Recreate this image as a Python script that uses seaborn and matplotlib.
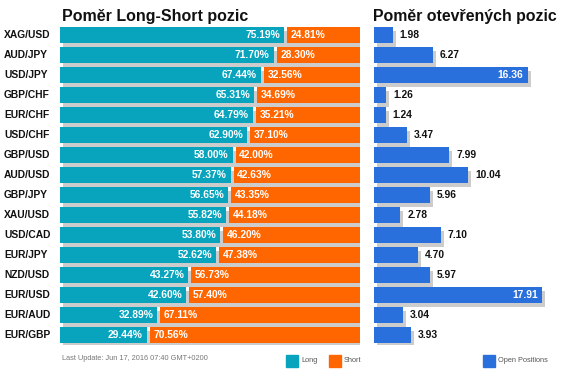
import numpy as np
import pandas as pd
import matplotlib
matplotlib.use("Agg")
import matplotlib.pyplot as plt
import matplotlib.transforms as mtransforms
from matplotlib.patches import Rectangle
import seaborn as sns

# ---- data ----
pairs = ["XAG/USD", "AUD/JPY", "USD/JPY", "GBP/CHF", "EUR/CHF", "USD/CHF", "GBP/USD",
         "AUD/USD", "GBP/JPY", "XAU/USD", "USD/CAD", "EUR/JPY", "NZD/USD", "EUR/USD",
         "EUR/AUD", "EUR/GBP"]
long_pct = [75.19, 71.70, 67.44, 65.31, 64.79, 62.90, 58.00, 57.37, 56.65, 55.82,
            53.80, 52.62, 43.27, 42.60, 32.89, 29.44]
short_pct = [24.81, 28.30, 32.56, 34.69, 35.21, 37.10, 42.00, 42.63, 43.35, 44.18,
             46.20, 47.38, 56.73, 57.40, 67.11, 70.56]
open_pos = [1.98, 6.27, 16.36, 1.26, 1.24, 3.47, 7.99, 10.04, 5.96, 2.78, 7.10, 4.70,
            5.97, 17.91, 3.04, 3.93]
title_left = "Poměr Long-Short pozic"
title_right = "Poměr otevřených pozic"
footer = "Last Update: Jun 17, 2016 07:40 GMT+0200"
legend_labels = ["Long", "Short", "Open Positions"]

df = pd.DataFrame({"pair": pairs, "long": long_pct, "short": short_pct, "open": open_pos})

# ---- style ----
sns.set_style("white")
plt.rcParams["font.family"] = ["Liberation Sans", "DejaVu Sans"]

TEAL = "#08A4BD"
ORANGE = "#FF6600"
BLUE = "#2A70DC"
SHADOW = "#CCCCCC"
LBL = 7.4

W, H = 565, 373
fig = plt.figure(figsize=(W / 100, H / 100), dpi=100)
fig.patch.set_facecolor("white")

def px_axes(x0, x1, ytop, ybot):
    return fig.add_axes([x0 / W, 1 - ybot / H, (x1 - x0) / W, (ybot - ytop) / H])

n = len(pairs)
ypos = np.arange(n)
BH = 0.8

axL = px_axes(60, 360, 25, 345)
axR = px_axes(374, 562, 25, 345)

shadow_off = mtransforms.ScaledTranslation(3 / 100, -4 / 100, fig.dpi_scale_trans)

# ---- left panel ----
axL.barh(ypos, [100] * n, height=BH, color=SHADOW, linewidth=0,
         transform=axL.transData + shadow_off, zorder=1)
sns.barplot(data=df, x="long", y="pair", orient="h", color=TEAL, width=BH,
            saturation=1, ax=axL, zorder=2)
for p in axL.patches[n:]:
    p.set_width(p.get_width() - 0.5)
    p.set_linewidth(0)
axL.barh(ypos, df["short"] - 0.5, left=df["long"] + 0.5, height=BH, color=ORANGE,
         linewidth=0, zorder=2)
for i in range(n):
    axL.text(long_pct[i] - 1.8, i, f"{long_pct[i]:.2f}%", color="white",
             fontsize=LBL, fontweight="bold", ha="right", va="center", zorder=3)
    axL.text(long_pct[i] + 1.7, i, f"{short_pct[i]:.2f}%", color="white",
             fontsize=LBL, fontweight="bold", ha="left", va="center", zorder=3)
axL.set_xlim(0, 100)
axL.set_ylim(n - 0.5, -0.5)

# ---- right panel ----
axR.barh(ypos, open_pos, height=BH, color=SHADOW, linewidth=0,
         transform=axR.transData + shadow_off, zorder=1)
sns.barplot(data=df, x="open", y="pair", orient="h", color=BLUE, width=BH,
            saturation=1, ax=axR, zorder=2)
for p in axR.patches[n:]:
    p.set_linewidth(0)
for i, v in enumerate(open_pos):
    if v > 15:
        axR.text(v - 0.5, i, f"{v:.2f}", color="white", fontsize=LBL,
                 fontweight="bold", ha="right", va="center", zorder=3)
    else:
        axR.text(v + 0.75, i, f"{v:.2f}", color="#111111", fontsize=LBL,
                 fontweight="bold", ha="left", va="center", zorder=3)
axR.set_xlim(0, 20)
axR.set_ylim(n - 0.5, -0.5)

for ax in (axL, axR):
    ax.set_xlabel("")
    ax.set_ylabel("")
    ax.set_xticks([])
    ax.set_yticks([])
    for s in ax.spines.values():
        s.set_visible(False)
    ax.patch.set_alpha(0)

# pair labels
lab_tr = mtransforms.blended_transform_factory(fig.transFigure, axL.transData)
for i, pr in enumerate(pairs):
    axL.text(4 / W, i, pr, transform=lab_tr, fontsize=LBL, fontweight="bold",
             color="#111111", ha="left", va="center", clip_on=False)

# titles
fig.text(62 / W, 1 - 21 / H, title_left, fontsize=11.5, fontweight="bold",
         color="#111111", ha="left", va="baseline")
fig.text(373 / W, 1 - 21 / H, title_right, fontsize=11.4, fontweight="bold",
         color="#111111", ha="left", va="baseline")

# footer
fig.text(62 / W, 1 - 358 / H, footer, fontsize=5.3, color="#777777",
         ha="left", va="center")

# legend
def leg(x, color, label):
    fig.patches.append(Rectangle((x / W, 1 - 367 / H), 12 / W, 12 / H,
                                 transform=fig.transFigure, color=color,
                                 figure=fig))
    fig.text((x + 15) / W, 1 - 361 / H, label, fontsize=5.3, color="#555555",
             ha="left", va="center")

leg(286, TEAL, legend_labels[0])
leg(329, ORANGE, legend_labels[1])
leg(483, BLUE, legend_labels[2])

fig.savefig("out.png", dpi=100, facecolor="white")
